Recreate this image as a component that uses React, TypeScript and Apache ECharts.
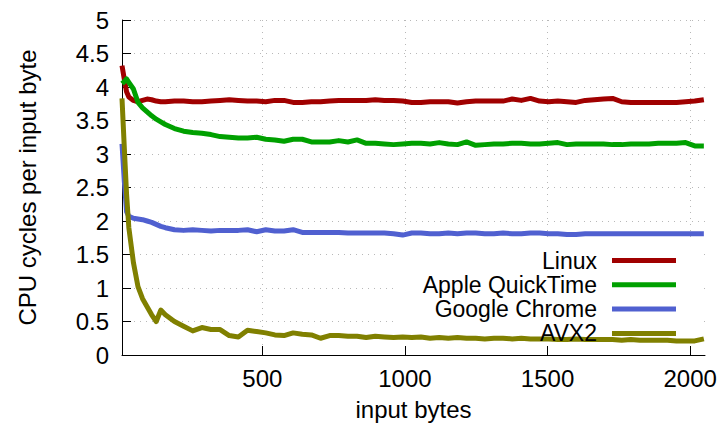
import React, { useEffect, useRef } from "react";
import * as echarts from "echarts";

const inputBytes = [
  8, 16, 24, 32, 48, 64, 80, 96, 112, 128,
  144, 160, 192, 224, 256, 288, 320, 352, 384, 416,
  448, 480, 512, 544, 576, 608, 640, 672, 704, 736,
  768, 800, 832, 864, 896, 928, 960, 992, 1024, 1056,
  1088, 1120, 1152, 1184, 1216, 1248, 1280, 1312, 1344, 1376,
  1408, 1440, 1472, 1504, 1536, 1568, 1600, 1632, 1664, 1696,
  1728, 1760, 1792, 1824, 1856, 1888, 1920, 1952, 1984, 2016,
  2048,
];

const linux = [
  4.32, 4.12, 3.93, 3.85, 3.8, 3.78, 3.8, 3.82, 3.81, 3.79,
  3.78, 3.78, 3.79, 3.79, 3.78, 3.78, 3.79, 3.8, 3.81, 3.8,
  3.79, 3.79, 3.78, 3.8, 3.8, 3.77, 3.77, 3.78, 3.78, 3.79,
  3.8, 3.8, 3.8, 3.8, 3.81, 3.8, 3.8, 3.79, 3.77, 3.77,
  3.78, 3.78, 3.78, 3.76, 3.78, 3.79, 3.79, 3.79, 3.79, 3.82,
  3.8, 3.83, 3.79, 3.78, 3.79, 3.78, 3.77, 3.8, 3.81, 3.82,
  3.83, 3.78, 3.77, 3.77, 3.77, 3.77, 3.77, 3.77, 3.78, 3.79,
  3.81,
];

const appleQuickTime = [
  4.05, 4.08, 4.12, 4.07, 3.97, 3.77, 3.69, 3.63, 3.57, 3.52,
  3.48, 3.44, 3.38, 3.34, 3.32, 3.31, 3.29, 3.26, 3.25, 3.24,
  3.24, 3.25, 3.22, 3.21, 3.19, 3.22, 3.22, 3.18, 3.18, 3.18,
  3.2, 3.18, 3.21, 3.16, 3.16, 3.15, 3.14, 3.15, 3.16, 3.16,
  3.15, 3.17, 3.15, 3.14, 3.18, 3.13, 3.14, 3.15, 3.15, 3.16,
  3.16, 3.15, 3.15, 3.16, 3.17, 3.14, 3.15, 3.15, 3.15, 3.15,
  3.14, 3.14, 3.15, 3.15, 3.15, 3.16, 3.16, 3.16, 3.17, 3.12,
  3.12,
];

const googleChrome = [
  3.15, 2.6, 2.14, 2.07, 2.04, 2.03, 2.02, 2.0, 1.98, 1.95,
  1.92, 1.9, 1.87, 1.86, 1.87, 1.86, 1.85, 1.86, 1.86, 1.86,
  1.87, 1.84, 1.87, 1.85, 1.85, 1.87, 1.83, 1.83, 1.83, 1.83,
  1.83, 1.82, 1.82, 1.82, 1.82, 1.82, 1.81, 1.79, 1.82, 1.82,
  1.81, 1.81, 1.82, 1.81, 1.82, 1.82, 1.81, 1.81, 1.82, 1.81,
  1.81, 1.82, 1.82, 1.81, 1.81, 1.8, 1.8, 1.81, 1.81, 1.81,
  1.81, 1.81, 1.81, 1.81, 1.81, 1.81, 1.81, 1.81, 1.81, 1.81,
  1.81,
];

const avx2 = [
  3.83, 3.1, 2.4, 1.9, 1.38, 1.02, 0.84, 0.72, 0.6, 0.5,
  0.67, 0.6, 0.5, 0.43, 0.36, 0.41, 0.38, 0.38, 0.29, 0.27,
  0.37, 0.35, 0.33, 0.3, 0.29, 0.33, 0.31, 0.3, 0.25, 0.29,
  0.29, 0.28, 0.28, 0.26, 0.28, 0.27, 0.26, 0.27, 0.26, 0.27,
  0.25, 0.26, 0.25, 0.26, 0.25, 0.25, 0.24, 0.25, 0.25, 0.24,
  0.25, 0.24, 0.24, 0.24, 0.23, 0.23, 0.24, 0.23, 0.23, 0.23,
  0.23, 0.22, 0.23, 0.22, 0.22, 0.22, 0.22, 0.21, 0.21, 0.21,
  0.24,
];

const seriesNames = ["Linux", "Apple QuickTime", "Google Chrome", "AVX2"];
const seriesValues = [linux, appleQuickTime, googleChrome, avx2];
const seriesColors = ["#a00000", "#00a000", "#5060d0", "#808000"];
const xTickValues = [500, 1000, 1500, 2000];
const xAxisTitle = "input bytes";
const yAxisTitle = "CPU cycles per input byte";

const FONT = "'Liberation Sans', Arial, Helvetica, sans-serif";
const FS = 24;
const LEGEND_FS = 23;

export default function App() {
  const ref = useRef<HTMLDivElement>(null);

  useEffect(() => {
    if (!ref.current) return;
    const chart = echarts.init(ref.current, null, { renderer: "svg" });
    const gridLine = { show: true, lineStyle: { color: "#b8b8b8", width: 1, type: [1, 5] as any } };
    chart.setOption({
      animation: false,
      backgroundColor: "#ffffff",
      textStyle: { fontFamily: FONT },
      grid: { left: 122, right: 20, top: 20, bottom: 78, containLabel: false },
      graphic: [
        {
          type: "rect",
          z: 1,
          shape: { x: 393, y: 238, width: 311, height: 107 },
          style: { fill: "#ffffff" },
          silent: true,
        },
      ],
      legend: {
        orient: "vertical",
        align: "right",
        right: 49,
        top: 249,
        padding: 0,
        itemGap: 1.3,
        itemWidth: 64,
        itemHeight: 5,
        icon: "rect",
        selectedMode: false,
        textStyle: {
          fontFamily: FONT,
          fontSize: LEGEND_FS,
          lineHeight: LEGEND_FS,
          color: "#000",
          padding: [0, 10, 0, 0],
        },
        data: seriesNames,
      },
      xAxis: {
        type: "value",
        min: 8,
        max: 2052,
        name: xAxisTitle,
        nameLocation: "middle",
        nameGap: 42,
        nameTextStyle: { fontFamily: FONT, fontSize: FS, color: "#000" },
        axisLine: { show: true, onZero: false, lineStyle: { color: "#000", width: 1 } },
        axisTick: { show: true, inside: true, length: 9, customValues: xTickValues, lineStyle: { color: "#000" } },
        axisLabel: {
          customValues: xTickValues,
          formatter: (v: number) => String(v),
          fontFamily: FONT,
          fontSize: FS,
          color: "#000",
          margin: 11,
        },
        splitLine: gridLine,
      },
      yAxis: {
        type: "value",
        min: 0,
        max: 5,
        interval: 0.5,
        name: yAxisTitle,
        nameLocation: "middle",
        nameGap: 83,
        nameRotate: 90,
        nameTextStyle: { fontFamily: FONT, fontSize: FS, color: "#000" },
        axisLine: { show: true, lineStyle: { color: "#000", width: 1 } },
        axisTick: { show: true, inside: true, length: 9, lineStyle: { color: "#000" } },
        axisLabel: { formatter: (v: number) => String(v), fontFamily: FONT, fontSize: FS, color: "#000", margin: 13 },
        splitLine: { ...gridLine, showMinLine: false },
      },
      series: seriesNames.map((name, i) => ({
        name,
        type: "line",
        data: inputBytes.map((x, j) => [x, seriesValues[i][j]]),
        showSymbol: false,
        symbol: "none",
        smooth: false,
        color: seriesColors[i],
        lineStyle: { color: seriesColors[i], width: 5, cap: "butt", join: "round" },
        z: 2,
      })),
    });
    return () => chart.dispose();
  }, []);

  return (
    <div
      ref={ref}
      style={{ position: "fixed", left: 0, top: 0, width: 725, height: 433, background: "#fff" }}
    />
  );
}
